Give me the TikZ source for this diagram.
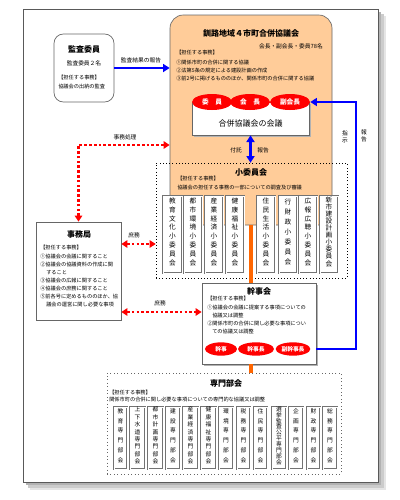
\documentclass[tikz,border=0pt]{standalone}
\usepackage{fontspec}
\setmainfont{Noto Sans CJK JP}
\usetikzlibrary{fit,shapes.geometric,arrows.meta,shadows}
\definecolor{peach}{HTML}{FFCC99}
\definecolor{orln}{HTML}{FF6600}
\newcommand\mysc[5]{\node[colbox, align=center, font=\fontsize{5}{#4}\selectfont, fit={(#2,196)(#3,273)}] (#1) {#5};}
\newcommand\mykc[5]{\node[colbox, align=center, font=\fontsize{4.3}{#4}\selectfont, fit={(#2,407)(#3,469)}] (#1) {#5};}
\begin{document}
\begin{tikzpicture}[x=0.75pt,y=-0.75pt,
  box/.style={draw=gray!80!black, fill=white, inner sep=0, line width=0.5pt},
  txt/.style={font=\fontsize{3.9}{4.5}\selectfont, inner sep=0, anchor=west},
  lbl/.style={font=\fontsize{4.3}{5}\selectfont, inner sep=0},
  ttl/.style={font=\fontsize{6}{7}\selectfont\bfseries, inner sep=0},
  colbox/.style={draw=gray!90!black, double=white, double distance=0.5pt, line width=0.35pt, fill=white, inner sep=0},
  rell/.style={ellipse, fill=red, text=white, inner sep=0, minimum width=30pt, minimum height=12pt, font=\fontsize{5}{5}\selectfont\bfseries},
  kell/.style={ellipse, fill=red, text=white, inner sep=0, minimum width=25pt, minimum height=10pt, font=\fontsize{4.3}{5}\selectfont\bfseries},
  bl/.style={draw=blue, line width=2.2pt},
  btip/.style={-{Triangle[length=5pt,width=6pt]}},
  rd/.style={draw=red, line width=2.2pt, dash pattern=on 2pt off 1.6pt, {Triangle[length=4.5pt,width=5.5pt]}-{Triangle[length=4.5pt,width=5.5pt]}},
  orl/.style={draw=orln, line width=3.6pt},
  shd/.style={drop shadow={shadow xshift=1.5pt, shadow yshift=-1.5pt, fill=gray!60, opacity=1}}]
\useasboundingbox (0,0) rectangle (400,500);
% page frame with shadow
\fill[gray!20] (30,16) rectangle (386,490);
\fill[gray!40] (28,14) rectangle (384,488);
\fill[gray!60] (26,12) rectangle (381,485);
\draw[gray!70!black, fill=white, line width=0.5pt] (23,9) rectangle (378,482);

% council
\node[draw=gray!80!black, fill=peach, rounded corners=10pt, inner sep=0, line width=0.5pt, fit={(170,15)(332,225)}] (council) {};
\node[ttl] at (251,33) {釧路地域４市町合併協議会};
\node[lbl, anchor=east] at (323,46) {会長・副会長・委員78名};
\node[txt] at (176,53) {【担任する事務】};
\node[txt] at (176,63) {①関係市町の合併に関する協議};
\node[txt] at (176,71) {②法第5条の規定による建設計画の作成};
\node[txt] at (176,79) {③前2号に掲げるもののほか、関係市町の合併に関する協議};
\node[box, shd, fit={(192,102)(309,135)}] (kaigi) {};
\node[font=\fontsize{6}{7}\selectfont, inner sep=0] at (250.5,123) {合併協議会の会議};
\node[rell] (iin) at (212,102) {委　員};
\node[rell] (kaicho) at (250,102) {会　長};
\node[rell] (fuku) at (290,102) {副会長};

% sub-committee block
\node[draw, dotted, inner sep=0, fit={(156,163)(347,278)}] (sho) {};
\draw[bl, {Triangle[length=5pt,width=6pt]}-{Triangle[length=5pt,width=6pt]}] (kaigi.south) -- (kaigi.south |- sho.north);
\node[lbl] at (236,150) {付託};
\node[lbl] at (263,150) {報告};
\node[ttl] at (251,172) {小委員会};
\node[txt] at (177,179) {【担任する事務】};
\node[txt] at (177,188) {協議会の担任する事務の一部についての調査及び審議};

% kanji
\node[box, shd, fit={(202,283)(316,364)}] (kanji) {};
\draw[orl] (council.south) -- (council.south |- kanji.north);

\mysc{c1}{163}{182}{6.6pt}{教\\育\\文\\化\\小\\委\\員\\会}
\mysc{c2}{184}{202}{6.6pt}{都\\市\\環\\境\\小\\委\\員\\会}
\mysc{c3}{205}{223}{6.6pt}{産\\業\\経\\済\\小\\委\\員\\会}
\mysc{c4}{226}{244}{6.6pt}{健\\康\\福\\祉\\小\\委\\員\\会}
\mysc{c5}{257}{275}{6.6pt}{住\\民\\生\\活\\小\\委\\員\\会}
\mysc{c6}{279}{297}{7.5pt}{行\\財\\政\\小\\委\\員\\会}
\mysc{c7}{299}{317}{6.6pt}{広\\報\\広\\聴\\小\\委\\員\\会}
\mysc{c8}{320}{338}{5.3pt}{新\\市\\建\\設\\計\\画\\小\\委\\員\\会}

\node[ttl] at (259,291) {幹事会};
\node[txt] at (207,299) {【担任する事務】};
\node[txt] at (207,308) {①協議会の会議に提案する事項についての};
\node[txt] at (212,316) {協議又は調整};
\node[txt] at (207,324) {②関係市町の合併に関し必要な事項につい};
\node[txt] at (212,332) {ての協議又は調整};
\node[kell, minimum width=24pt] (kj) at (221,349) {幹事};
\node[kell, minimum width=27pt] (kjc) at (256,349) {幹事長};
\node[kell, minimum width=26pt] (fkj) at (293,349) {副幹事長};

% senmon
\node[draw=gray!80!black, dotted, inner sep=0, line width=0.6pt, fit={(107,373)(341,474)}] (senmon) {};
\draw[orl] (kanji.south -| council.south) -- (senmon.north -| council.south);
\node[ttl] at (226,383) {専門部会};
\node[txt] at (109,393) {【担任する事務】};
\node[txt] at (109,400) {関係市町の合併に関し必要な事項についての専門的な協議又は調整};
\mykc{k1}{114}{127}{7.3pt}{教\\育\\専\\門\\部\\会}
\mykc{k2}{130}{145}{5.6pt}{上\\下\\水\\道\\専\\門\\部\\会}
\mykc{k3}{148}{163}{5.6pt}{都\\市\\計\\画\\専\\門\\部\\会}
\mykc{k4}{166}{180}{7.3pt}{建\\設\\専\\門\\部\\会}
\mykc{k5}{183}{198}{5.6pt}{産\\業\\経\\済\\専\\門\\部\\会}
\mykc{k6}{201}{216}{5.6pt}{健\\康\\福\\祉\\専\\門\\部\\会}
\mykc{k7}{219}{233}{7.3pt}{環\\境\\専\\門\\部\\会}
\mykc{k8}{237}{250}{7.3pt}{税\\務\\専\\門\\部\\会}
\mykc{k9}{254}{267}{7.3pt}{住\\民\\専\\門\\部\\会}
\mykc{k10}{272}{286}{4.4pt}{選\\挙\\監\\査\\公\\平\\専\\門\\部\\会}
\mykc{k11}{289}{303}{7.3pt}{企\\画\\専\\門\\部\\会}
\mykc{k12}{307}{320}{7.3pt}{財\\政\\専\\門\\部\\会}
\mykc{k13}{323}{337}{7.3pt}{総\\務\\専\\門\\部\\会}

% kansa
\node[box, rounded corners=7pt, fit={(54,34)(114,102)}] (kansa) {};
\node[ttl] at (84,49) {監査委員};
\node[lbl] at (84,63) {監査委員２名};
\node[txt] at (58,78) {【担任する事務】};
\node[txt] at (58,87) {協議会の出納の監査};
\draw[bl, btip] (kansa.east) -- (kansa.east -| council.west);
\node[lbl] at (141,60) {監査結果の報告};

% jimu
\node[box, fit={(36,222)(121,320)}] (jimu) {};
\node[ttl] at (79,234) {事務局};
\node[txt] at (40,248) {【担任する事務】};
\node[txt] at (40,257) {①協議会の会議に関すること};
\node[txt] at (40,265) {②協議会の協議資料の作成に関};
\node[txt] at (46,273) {すること};
\node[txt] at (40,281) {③協議会の広報に関すること};
\node[txt] at (40,289) {④協議会の庶務に関すること};
\node[txt] at (40,297) {⑤前各号に定めるもののほか、協};
\node[txt] at (46,305) {議会の運営に関し必要な事項};

\coordinate (jm) at (0,145);
\coordinate (s1) at (0,244);
\coordinate (s2) at (0,312);
\draw[rd] (jimu.north) |- (council.west |- jm);
\node[lbl] at (125,137) {事務処理};
\draw[rd] (jimu.east |- s1) -- (sho.west |- s1);
\node[lbl] at (134,235) {庶務};
\draw[rd] (jimu.east |- s2) -- (kanji.west |- s2);
\node[lbl] at (160,303) {庶務};

% blue instruction line
\coordinate (rt) at (356,0);
\draw[bl, btip] (kanji.east |- fkj) -| (rt |- fuku) -- (fuku.east);
\node[lbl, align=center] at (345,137) {指\\示};
\node[lbl, align=center] at (364,136) {報\\告};
\end{tikzpicture}
\end{document}
